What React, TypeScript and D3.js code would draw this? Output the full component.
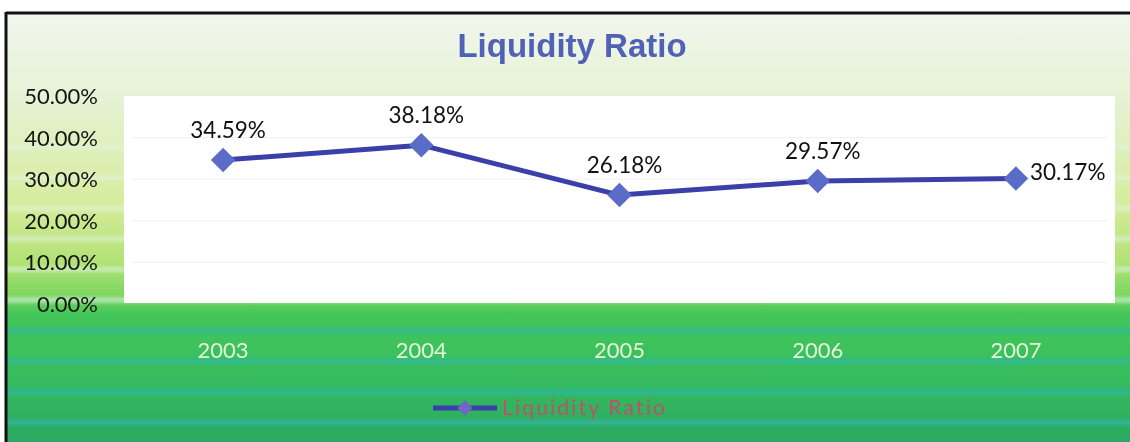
import React from "react";
import * as d3 from "d3";

// Liquidity ratio by year (percent)
const years: string[] = ["2003", "2004", "2005", "2006", "2007"];
const ratios: number[] = [34.59, 38.18, 26.18, 29.57, 30.17];
const yTicks: number[] = [0, 10, 20, 30, 40, 50];
const seriesName = "Liquidity Ratio";
const chartTitle = "Liquidity Ratio";

const W = 1130;
const H = 442;
const plot = { left: 124, right: 1115, top: 96, bottom: 304 };

const FONT = "Lato, 'Open Sans', sans-serif";

export default function App() {
  const x = d3
    .scalePoint<string>()
    .domain(years)
    .range([plot.left, plot.right])
    .padding(0.5);
  const y = d3.scaleLinear().domain([0, 50]).range([plot.bottom, plot.top]);

  const line = d3
    .line<number>()
    .x((_, i) => x(years[i]) as number)
    .y((d) => y(d));

  // rotated square marker
  const diamond = d3.symbol().type(d3.symbolSquare).size(300)() as string;

  // horizontal banding in the backdrop
  const stripeYs = d3.range(144, H, 30.6);

  const fmt = (v: number) => v.toFixed(2) + "%";

  return (
    <svg
      width={W}
      height={H}
      style={{ position: "absolute", left: 0, top: 0, display: "block" }}
    >
      <defs>
        <linearGradient id="bg" x1="0" y1="0" x2="0" y2="1">
          <stop offset="0" stopColor="#f1f6ee" />
          <stop offset="0.2" stopColor="#e6f2d4" />
          <stop offset="0.44" stopColor="#d6ec9e" />
          <stop offset="0.58" stopColor="#b2e274" />
          <stop offset="0.655" stopColor="#7fd660" />
          <stop offset="0.7" stopColor="#44c65a" />
          <stop offset="0.85" stopColor="#36bd5e" />
          <stop offset="1" stopColor="#2ba862" />
        </linearGradient>
        <filter id="soft" x="-1%" y="-50%" width="102%" height="200%">
          <feGaussianBlur stdDeviation="0 1.6" />
        </filter>
      </defs>

      <rect x={0} y={0} width={W} height={H} fill="#ffffff" />
      <rect x={6} y={14} width={W - 6} height={H - 14} fill="url(#bg)" />

      <g filter="url(#soft)">
        {stripeYs.map((sy, i) => {
          const upper = sy < 300;
          const t = (sy - 144) / (H - 144);
          return (
            <rect
              key={i}
              x={6}
              y={sy}
              width={W - 6}
              height={6}
              fill={upper ? "#e8f7ee" : "#2fb6ac"}
              opacity={upper ? 0.35 + t * 0.3 : 0.4 + t * 0.25}
            />
          );
        })}
      </g>

      {/* frame */}
      <line x1={6} y1={13} x2={W} y2={13} stroke="#111" strokeWidth={3} />
      <line x1={6} y1={12} x2={6} y2={H} stroke="#111" strokeWidth={3} />

      {/* title */}
      <text
        x={572}
        y={57}
        textAnchor="middle"
        fontFamily="'Liberation Sans', Arial, sans-serif"
        fontWeight="bold"
        fontSize={33}
        fill="#5061b6"
      >
        {chartTitle}
      </text>

      {/* plot area */}
      <rect
        x={plot.left}
        y={plot.top}
        width={plot.right - plot.left}
        height={plot.bottom - plot.top - 1}
        fill="#ffffff"
      />
      {yTicks
        .filter((t) => t > 0 && t < 50)
        .map((t) => (
          <line
            key={t}
            x1={plot.left + 8}
            x2={plot.right - 8}
            y1={y(t)}
            y2={y(t)}
            stroke="#efefef"
            strokeWidth={1}
          />
        ))}

      {/* y axis labels */}
      {yTicks.map((t) => (
        <text
          key={t}
          x={98}
          y={y(t) + 8}
          textAnchor="end"
          fontFamily={FONT}
          fontSize={22}
          fill="#141414"
        >
          {fmt(t)}
        </text>
      ))}

      {/* x axis labels */}
      {years.map((yr) => (
        <text
          key={yr}
          x={x(yr)}
          y={358}
          textAnchor="middle"
          fontFamily={FONT}
          fontSize={22}
          fill="#e3f5d8"
        >
          {yr}
        </text>
      ))}

      {/* series */}
      <path
        d={line(ratios) as string}
        fill="none"
        stroke="#3a3faa"
        strokeWidth={5}
        strokeLinejoin="round"
      />
      {ratios.map((v, i) => (
        <path
          key={i}
          d={diamond}
          transform={`translate(${x(years[i])},${y(v)}) rotate(45)`}
          fill="#5b6cc8"
        />
      ))}

      {/* data labels */}
      {ratios.map((v, i) => {
        const cx = x(years[i]) as number;
        const last = i === ratios.length - 1;
        return (
          <text
            key={i}
            x={last ? cx + 14 : cx + 5}
            y={last ? y(v) + 2 : y(v) - 22}
            textAnchor={last ? "start" : "middle"}
            fontFamily={FONT}
            fontSize={22.5}
            fill="#111"
          >
            {fmt(v)}
          </text>
        );
      })}

      {/* legend */}
      <line x1={433} x2={497} y1={408} y2={408} stroke="#3a3faa" strokeWidth={5} />
      <path
        d={d3.symbol().type(d3.symbolSquare).size(120)() as string}
        transform="translate(465,408) rotate(45)"
        fill="#6f66c8"
      />
      <text
        x={502}
        y={415}
        fontFamily={FONT}
        fontSize={21}
        letterSpacing={2.2}
        fill="#c0506a"
      >
        {seriesName}
      </text>
    </svg>
  );
}
